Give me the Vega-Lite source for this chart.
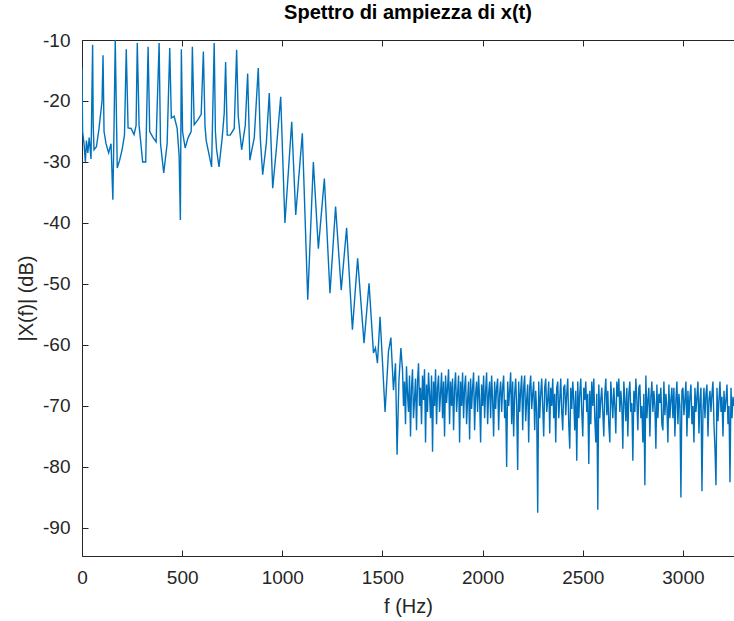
{
 "$schema": "https://vega.github.io/schema/vega-lite/v6.json",
 "width": 652, "height": 516,
 "autosize": {"type": "none"},
 "padding": {"left": 82, "top": 40, "right": 0, "bottom": 65},
 "background": "white",
 "config": {
  "view": {"stroke": null},
  "font": "Liberation Sans",
  "axis": {"domainColor": "#262626", "tickColor": "#262626", "labelColor": "#262626", "titleColor": "#262626", "labelFont": "Liberation Sans", "titleFont": "Liberation Sans", "labelFontSize": 19, "titleFontSize": 20, "titleFontWeight": "normal", "grid": false, "domainWidth": 1, "tickWidth": 1}
 },
 "title": {"text": "Spettro di ampiezza di x(t)", "fontSize": 20, "fontWeight": "bold", "font": "Liberation Sans", "color": "#000000", "anchor": "middle", "offset": 8},
 "data": {"values": [
  {"f":0,"db":-14.5},{"f":3,"db":-25},{"f":10,"db":-27},{"f":17,"db":-30},{"f":22,"db":-26.5},{"f":29,"db":-28.5},{"f":36,"db":-26},{"f":45,"db":-29.5},{"f":53,"db":-10.8},{"f":56,"db":-24},{"f":60,"db":-28},{"f":72,"db":-27.5},{"f":85,"db":-24.5},{"f":100,"db":-20},{"f":105,"db":-12.5},{"f":110,"db":-25},{"f":120,"db":-27},{"f":133,"db":-28.5},{"f":145,"db":-27},{"f":154,"db":-36.2},{"f":160,"db":-24},{"f":166,"db":-10},{"f":176,"db":-31},{"f":188,"db":-29.7},{"f":200,"db":-28},{"f":212,"db":-25.6},{"f":221,"db":-11.5},{"f":230,"db":-24.4},{"f":245,"db":-24.5},{"f":260,"db":-25.5},{"f":270,"db":-24},{"f":276,"db":-10.5},{"f":285,"db":-24},{"f":303,"db":-30},{"f":318,"db":-30},{"f":330,"db":-11.1},{"f":338,"db":-25},{"f":355,"db":-26},{"f":370,"db":-26.7},{"f":385,"db":-10.5},{"f":392,"db":-27},{"f":408,"db":-31.8},{"f":425,"db":-27},{"f":438,"db":-11.3},{"f":446,"db":-22.8},{"f":460,"db":-22.5},{"f":475,"db":-24.5},{"f":485,"db":-29},{"f":491,"db":-39.5},{"f":496,"db":-11.5},{"f":502,"db":-25},{"f":515,"db":-27.7},{"f":530,"db":-26},{"f":545,"db":-25},{"f":551,"db":-11.1},{"f":560,"db":-23.9},{"f":580,"db":-23},{"f":595,"db":-22.2},{"f":606,"db":-11.9},{"f":614,"db":-24},{"f":620,"db":-26.5},{"f":647,"db":-30.8},{"f":660,"db":-10.5},{"f":666,"db":-25},{"f":672,"db":-28},{"f":684,"db":-30.8},{"f":700,"db":-26},{"f":710,"db":-22},{"f":717,"db":-13.6},{"f":725,"db":-25.6},{"f":740,"db":-25.6},{"f":760,"db":-24.5},{"f":772,"db":-11.6},{"f":780,"db":-22.5},{"f":797,"db":-28},{"f":815,"db":-24},{"f":827,"db":-15.5},{"f":838,"db":-29.7},{"f":860,"db":-26},{"f":880,"db":-14.6},{"f":890,"db":-26},{"f":902,"db":-32.1},{"f":920,"db":-27},{"f":935,"db":-18.7},{"f":952,"db":-34.3},{"f":970,"db":-28},{"f":992,"db":-19.3},{"f":1013,"db":-40},{"f":1047,"db":-23.4},{"f":1067,"db":-38.7},{"f":1100,"db":-25.3},{"f":1127,"db":-52.6},{"f":1155,"db":-30},{"f":1180,"db":-44.2},{"f":1210,"db":-32.7},{"f":1238,"db":-51.5},{"f":1266,"db":-37.3},{"f":1294,"db":-51},{"f":1321,"db":-40.8},{"f":1350,"db":-57.5},{"f":1376,"db":-45.8},{"f":1408,"db":-59.7},{"f":1433,"db":-49.9},{"f":1455,"db":-61.3},{"f":1465,"db":-60.5},{"f":1475,"db":-63},{"f":1488,"db":-55.4},{"f":1500,"db":-62.7},{"f":1513,"db":-71},{"f":1530,"db":-61.1},{"f":1542,"db":-58.8},{"f":1555,"db":-67.4},{"f":1565,"db":-63},{"f":1573,"db":-78},{"f":1582,"db":-66},{"f":1592,"db":-60.5},
  {"f":1600,"db":-64},{"f":1605,"db":-70},{"f":1610,"db":-66},{"f":1615,"db":-73},{"f":1620,"db":-63.5},{"f":1625,"db":-68},{"f":1630,"db":-71},{"f":1635,"db":-65},{"f":1640,"db":-75},{"f":1645,"db":-67},
  {"f":1650,"db":-64},{"f":1655,"db":-72},{"f":1660,"db":-69},{"f":1665,"db":-65.5},{"f":1670,"db":-74},{"f":1675,"db":-66},{"f":1680,"db":-63},{"f":1685,"db":-70},{"f":1690,"db":-67},{"f":1695,"db":-73},
  {"f":1700,"db":-65},{"f":1705,"db":-69},{"f":1710,"db":-64},{"f":1715,"db":-76},{"f":1720,"db":-66.5},{"f":1725,"db":-71},{"f":1730,"db":-64.5},{"f":1735,"db":-68},{"f":1740,"db":-72},{"f":1745,"db":-65},
  {"f":1750,"db":-77.5},{"f":1755,"db":-66},{"f":1760,"db":-70},{"f":1765,"db":-64},{"f":1770,"db":-73},{"f":1775,"db":-67},{"f":1780,"db":-65},{"f":1785,"db":-71},{"f":1790,"db":-68},{"f":1795,"db":-64.5},
  {"f":1800,"db":-72},{"f":1805,"db":-66},{"f":1810,"db":-75},{"f":1815,"db":-65},{"f":1820,"db":-69.5},{"f":1825,"db":-67},{"f":1830,"db":-64},{"f":1835,"db":-73},{"f":1840,"db":-66},{"f":1845,"db":-70},
  {"f":1850,"db":-65.5},{"f":1855,"db":-74},{"f":1860,"db":-67},{"f":1865,"db":-64.5},{"f":1870,"db":-71},{"f":1875,"db":-68},{"f":1880,"db":-65},{"f":1885,"db":-76},{"f":1890,"db":-66},{"f":1895,"db":-70},
  {"f":1900,"db":-64.5},{"f":1905,"db":-72},{"f":1910,"db":-67},{"f":1915,"db":-65},{"f":1920,"db":-73},{"f":1925,"db":-69},{"f":1930,"db":-66},{"f":1935,"db":-75.5},{"f":1940,"db":-65.5},{"f":1945,"db":-70.5},
  {"f":1950,"db":-67},{"f":1955,"db":-64.5},{"f":1960,"db":-74},{"f":1965,"db":-68},{"f":1970,"db":-66},{"f":1975,"db":-71},{"f":1980,"db":-65},{"f":1985,"db":-69},{"f":1990,"db":-76},{"f":1995,"db":-66.5},
  {"f":2000,"db":-70},{"f":2005,"db":-65},{"f":2010,"db":-72},{"f":2015,"db":-67.5},{"f":2020,"db":-64.5},{"f":2025,"db":-73},{"f":2030,"db":-68},{"f":2035,"db":-66},{"f":2040,"db":-72},{"f":2045,"db":-65},
  {"f":2050,"db":-69},{"f":2055,"db":-75},{"f":2060,"db":-66},{"f":2065,"db":-70.5},{"f":2070,"db":-67},{"f":2075,"db":-65.5},{"f":2080,"db":-74},{"f":2085,"db":-68},{"f":2090,"db":-66},{"f":2095,"db":-71},
  {"f":2100,"db":-67},{"f":2105,"db":-65},{"f":2110,"db":-72},{"f":2115,"db":-69},{"f":2120,"db":-80},{"f":2125,"db":-66},{"f":2130,"db":-70},{"f":2135,"db":-67.5},{"f":2140,"db":-64.5},{"f":2145,"db":-73},
  {"f":2150,"db":-66},{"f":2155,"db":-75},{"f":2160,"db":-68},{"f":2165,"db":-65.5},{"f":2170,"db":-70},{"f":2175,"db":-80.5},{"f":2180,"db":-66},{"f":2185,"db":-71},{"f":2190,"db":-67.5},{"f":2195,"db":-65},
  {"f":2200,"db":-74},{"f":2205,"db":-67},{"f":2210,"db":-65},{"f":2215,"db":-72.5},{"f":2220,"db":-69},{"f":2225,"db":-66.5},{"f":2230,"db":-76},{"f":2235,"db":-67},{"f":2240,"db":-65},{"f":2245,"db":-70.5},
  {"f":2250,"db":-68},{"f":2255,"db":-66},{"f":2260,"db":-74},{"f":2265,"db":-67.5},{"f":2270,"db":-71},{"f":2275,"db":-87.5},{"f":2280,"db":-66},{"f":2285,"db":-72},{"f":2290,"db":-68},{"f":2295,"db":-65.5},
  {"f":2300,"db":-70},{"f":2305,"db":-75},{"f":2310,"db":-67},{"f":2315,"db":-65.5},{"f":2320,"db":-71},{"f":2325,"db":-69},{"f":2330,"db":-66},{"f":2335,"db":-74.5},{"f":2340,"db":-67},{"f":2345,"db":-70},
  {"f":2350,"db":-65.5},{"f":2355,"db":-72},{"f":2360,"db":-68},{"f":2365,"db":-76},{"f":2370,"db":-67},{"f":2375,"db":-66},{"f":2380,"db":-72},{"f":2385,"db":-69},{"f":2390,"db":-65.5},{"f":2395,"db":-71},
  {"f":2400,"db":-74},{"f":2405,"db":-67},{"f":2410,"db":-66.5},{"f":2415,"db":-71.5},{"f":2420,"db":-68},{"f":2425,"db":-65.5},{"f":2430,"db":-73},{"f":2435,"db":-77},{"f":2440,"db":-67},{"f":2445,"db":-70.5},
  {"f":2450,"db":-66},{"f":2455,"db":-69},{"f":2460,"db":-74},{"f":2465,"db":-67.5},{"f":2470,"db":-79},{"f":2475,"db":-66},{"f":2480,"db":-72},{"f":2485,"db":-68},{"f":2490,"db":-65.5},{"f":2495,"db":-71},
  {"f":2500,"db":-75},{"f":2505,"db":-67},{"f":2510,"db":-69},{"f":2515,"db":-66},{"f":2520,"db":-71},{"f":2525,"db":-68},{"f":2530,"db":-79.5},{"f":2535,"db":-67.5},{"f":2540,"db":-73},{"f":2545,"db":-66},
  {"f":2550,"db":-70},{"f":2555,"db":-65.5},{"f":2560,"db":-72},{"f":2565,"db":-76},{"f":2570,"db":-68},{"f":2575,"db":-87},{"f":2580,"db":-66.5},{"f":2585,"db":-72},{"f":2590,"db":-69},{"f":2595,"db":-67},
  {"f":2600,"db":-71},{"f":2605,"db":-75},{"f":2610,"db":-68},{"f":2615,"db":-65.5},{"f":2620,"db":-71.5},{"f":2625,"db":-67.5},{"f":2630,"db":-73},{"f":2635,"db":-76},{"f":2640,"db":-66},{"f":2645,"db":-69},
  {"f":2650,"db":-72},{"f":2655,"db":-67},{"f":2660,"db":-70},{"f":2665,"db":-74.5},{"f":2670,"db":-66},{"f":2675,"db":-68.5},{"f":2680,"db":-65.5},{"f":2685,"db":-71},{"f":2690,"db":-67.5},{"f":2695,"db":-70},
  {"f":2700,"db":-77},{"f":2705,"db":-66},{"f":2710,"db":-69},{"f":2715,"db":-72.5},{"f":2720,"db":-67},{"f":2725,"db":-75},{"f":2730,"db":-68},{"f":2735,"db":-66},{"f":2740,"db":-71},{"f":2745,"db":-69.5},
  {"f":2750,"db":-79},{"f":2755,"db":-67.5},{"f":2760,"db":-71},{"f":2765,"db":-65.5},{"f":2770,"db":-69},{"f":2775,"db":-74},{"f":2780,"db":-67},{"f":2785,"db":-66.5},{"f":2790,"db":-72},{"f":2795,"db":-70},
  {"f":2800,"db":-76},{"f":2805,"db":-68},{"f":2810,"db":-83},{"f":2815,"db":-65},{"f":2820,"db":-72},{"f":2825,"db":-69},{"f":2830,"db":-67},{"f":2835,"db":-75},{"f":2840,"db":-68.5},{"f":2845,"db":-66},
  {"f":2850,"db":-71},{"f":2855,"db":-67.5},{"f":2860,"db":-70},{"f":2865,"db":-77},{"f":2870,"db":-66.5},{"f":2875,"db":-72},{"f":2880,"db":-68},{"f":2885,"db":-69.5},{"f":2890,"db":-67},{"f":2895,"db":-73},
  {"f":2900,"db":-74},{"f":2905,"db":-66},{"f":2910,"db":-71.5},{"f":2915,"db":-68},{"f":2920,"db":-70},{"f":2925,"db":-76},{"f":2930,"db":-66.5},{"f":2935,"db":-72},{"f":2940,"db":-69},{"f":2945,"db":-67},
  {"f":2950,"db":-72},{"f":2955,"db":-67},{"f":2960,"db":-75},{"f":2965,"db":-69},{"f":2970,"db":-66},{"f":2975,"db":-73},{"f":2980,"db":-68},{"f":2985,"db":-70},{"f":2990,"db":-85},{"f":2995,"db":-67.5},
  {"f":3000,"db":-67},{"f":3005,"db":-71.5},{"f":3010,"db":-69},{"f":3015,"db":-66},{"f":3020,"db":-75},{"f":3025,"db":-67.5},{"f":3030,"db":-72},{"f":3035,"db":-68.5},{"f":3040,"db":-66.5},{"f":3045,"db":-73},
  {"f":3050,"db":-70},{"f":3055,"db":-76},{"f":3060,"db":-67},{"f":3065,"db":-71},{"f":3070,"db":-68.5},{"f":3075,"db":-66},{"f":3080,"db":-74.5},{"f":3085,"db":-69},{"f":3090,"db":-67},{"f":3095,"db":-84},
  {"f":3100,"db":-71},{"f":3105,"db":-67},{"f":3110,"db":-72},{"f":3115,"db":-68},{"f":3120,"db":-66.5},{"f":3125,"db":-75},{"f":3130,"db":-69},{"f":3135,"db":-67.5},{"f":3140,"db":-71},{"f":3145,"db":-68},
  {"f":3150,"db":-66},{"f":3155,"db":-73},{"f":3160,"db":-77},{"f":3165,"db":-83},{"f":3170,"db":-67},{"f":3175,"db":-72.5},{"f":3180,"db":-69},{"f":3185,"db":-66},{"f":3190,"db":-71},{"f":3195,"db":-68.5},
  {"f":3200,"db":-75},{"f":3205,"db":-67.5},{"f":3210,"db":-71},{"f":3215,"db":-69},{"f":3220,"db":-66.5},{"f":3225,"db":-73},{"f":3230,"db":-70},{"f":3235,"db":-82.5},{"f":3240,"db":-67},{"f":3245,"db":-72},
  {"f":3250,"db":-68.5},{"f":3255,"db":-70}
 ]},
 "layer": [
  {
   "mark": {"type": "line", "color": "#0072BD", "strokeWidth": 1.4, "clip": true},
   "encoding": {
    "x": {"field": "f", "type": "quantitative", "scale": {"domain": [0, 3255], "nice": false, "zero": false},
          "axis": {"orient": "bottom", "values": [0, 500, 1000, 1500, 2000, 2500, 3000], "format": "d", "tickSize": -6, "labelPadding": 18, "labelFlush": false, "title": "f (Hz)", "titlePadding": 9}},
    "y": {"field": "db", "type": "quantitative", "scale": {"domain": [-94.6, -10], "nice": false, "zero": false},
          "axis": {"values": [-90, -80, -70, -60, -50, -40, -30, -20, -10], "labelExpr": "datum.value < 0 ? '-' + (-datum.value) : '' + datum.value", "tickSize": -6, "labelPadding": 18, "labelFlush": false, "title": "|X(f)| (dB)", "titlePadding": 6}}
   }
  },
  {
   "mark": {"type": "line", "opacity": 0},
   "encoding": {
    "x": {"field": "f", "type": "quantitative", "axis": {"orient": "top", "values": [0, 500, 1000, 1500, 2000, 2500, 3000], "labels": false, "tickSize": -6, "title": null}},
    "y": {"field": "db", "type": "quantitative"}
   }
  }
 ],
 "resolve": {"axis": {"x": "independent"}}
}
